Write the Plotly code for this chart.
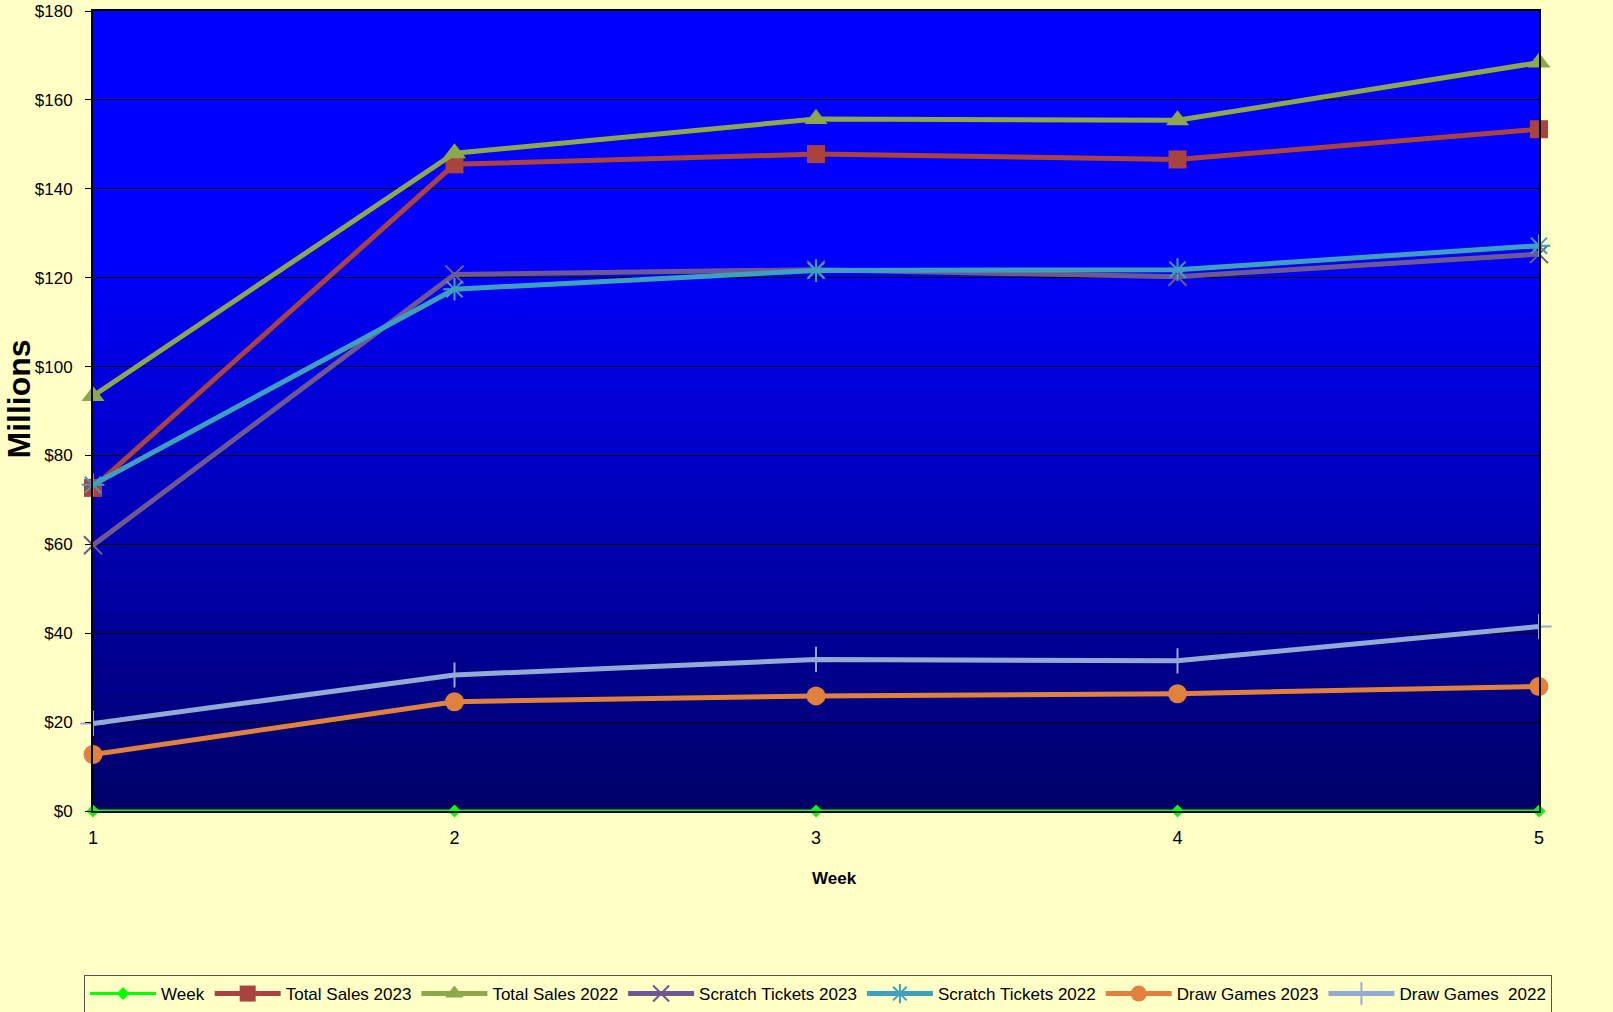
import plotly.graph_objects as go

weeks = [1, 2, 3, 4, 5]
week_line = [0, 0, 0, 0, 0]
total_2023 = [72.7, 145.5, 147.8, 146.6, 153.4]
total_2022 = [93.4, 148.0, 155.7, 155.4, 168.4]
scratch_2023 = [59.8, 120.7, 121.8, 120.2, 125.3]
scratch_2022 = [73.4, 117.4, 121.6, 121.8, 127.2]
draw_2023 = [12.7, 24.6, 25.9, 26.4, 28.0]
draw_2022 = [19.7, 30.6, 34.1, 33.8, 41.5]
y_ticks = [0, 20, 40, 60, 80, 100, 120, 140, 160, 180]
y_tick_labels = ["$" + str(v) for v in y_ticks]

FONT = "Liberation Sans Narrow, Arial Narrow, Liberation Sans, Arial, sans-serif"

fig = go.Figure()

series = [
    ("Total Sales 2023", total_2023, "#A8433F", dict(symbol="square", size=18)),
    ("Total Sales 2022", total_2022, "#8DA74B", dict(symbol="triangle-up", size=20)),
    ("Scratch Tickets 2023", scratch_2023, "#6E5892",
     dict(symbol="x-thin", size=18, line=dict(width=2, color="#6E5892"))),
    ("Scratch Tickets 2022", scratch_2022, "#3FA0BE",
     dict(symbol="asterisk", size=19, line=dict(width=2, color="#3FA0BE"))),
    ("Draw Games 2023", draw_2023, "#E0823D", dict(symbol="circle", size=19)),
    ("Draw Games  2022", draw_2022, "#93ABD2",
     dict(symbol="cross-thin", size=18, line=dict(width=2, color="#93ABD2"))),
]

for name, vals, color, mk in series:
    m = dict(color=color)
    m.update(mk)
    fig.add_trace(go.Scatter(
        x=weeks, y=vals, name=name, mode="lines+markers",
        line=dict(color=color, width=5),
        marker=m,
        cliponaxis=False,
    ))

fig.add_trace(go.Scatter(
    x=weeks, y=week_line, name="Week", mode="lines+markers",
    line=dict(color="#00FF00", width=3),
    marker=dict(symbol="diamond", size=10, color="#00FF00"),
    cliponaxis=False,
))

# gradient background for plot area
n = 80
for i in range(n):
    t0 = i / n
    t1 = (i + 1) / n
    tm = (t0 + t1) / 2  # 0 = top, 1 = bottom
    if tm < 0.3:
        b = 255
    else:
        b = 255 - (255 - 102) * (tm - 0.3) / 0.7
    fig.add_shape(
        type="rect", xref="x domain", yref="y domain",
        x0=0, x1=1, y0=1 - t1, y1=1 - t0,
        fillcolor=f"rgb(0,0,{int(round(b))})", line=dict(width=0),
        layer="below",
    )

fig.update_layout(
    width=1613, height=1012,
    margin=dict(l=93, r=74, t=11, b=201, autoexpand=False),
    paper_bgcolor="#FFFFC6",
    plot_bgcolor="#0000FF",
    font=dict(family=FONT, size=17, color="black"),
    showlegend=True,
    legend=dict(
        orientation="h",
        x=-0.0062, y=-0.205, xanchor="left", yanchor="top",
        bgcolor="#FFFFC6", bordercolor="#555555", borderwidth=1,
        font=dict(family=FONT, size=17, color="black"),
        itemwidth=66,
        traceorder="normal",
    ),
)

# axis titles as annotations (positioned like the original)
fig.add_annotation(
    text="<b>Week</b>", xref="paper", yref="paper",
    x=0.513, y=-0.084, xanchor="center", yanchor="middle", showarrow=False,
    font=dict(family=FONT, size=17, color="black"),
)
fig.add_annotation(
    text="<b>Millions</b>", xref="paper", yref="paper",
    x=-0.0515, y=0.515, xanchor="center", yanchor="middle", showarrow=False,
    textangle=-90,
    font=dict(family="Liberation Sans, Arial, sans-serif", size=32, color="black"),
)

fig.update_xaxes(
    range=[1, 5], tickvals=weeks, ticktext=[str(w) for w in weeks],
    showgrid=False, zeroline=False, automargin=False,
    showline=True, mirror=True, linecolor="black", linewidth=2,
    ticks="", ticklabelstandoff=9,
    tickfont=dict(family=FONT, size=18),
)
fig.update_yaxes(
    range=[0, 180], tickvals=y_ticks, ticktext=y_tick_labels,
    showgrid=True, gridcolor="black", gridwidth=1,
    zeroline=False, automargin=False,
    showline=True, mirror=True, linecolor="black", linewidth=2,
    ticks="outside", ticklen=6, tickcolor="black",
    ticklabelstandoff=9,
    tickfont=dict(family=FONT, size=17),
)

order = ["Week", "Total Sales 2023", "Total Sales 2022", "Scratch Tickets 2023",
         "Scratch Tickets 2022", "Draw Games 2023", "Draw Games  2022"]
for tr in fig.data:
    tr.legendrank = order.index(tr.name) + 1

fig.write_html(
    "out.html",
    config={"displayModeBar": False},
    post_script="document.body.style.margin='0';document.body.style.padding='0';",
)
